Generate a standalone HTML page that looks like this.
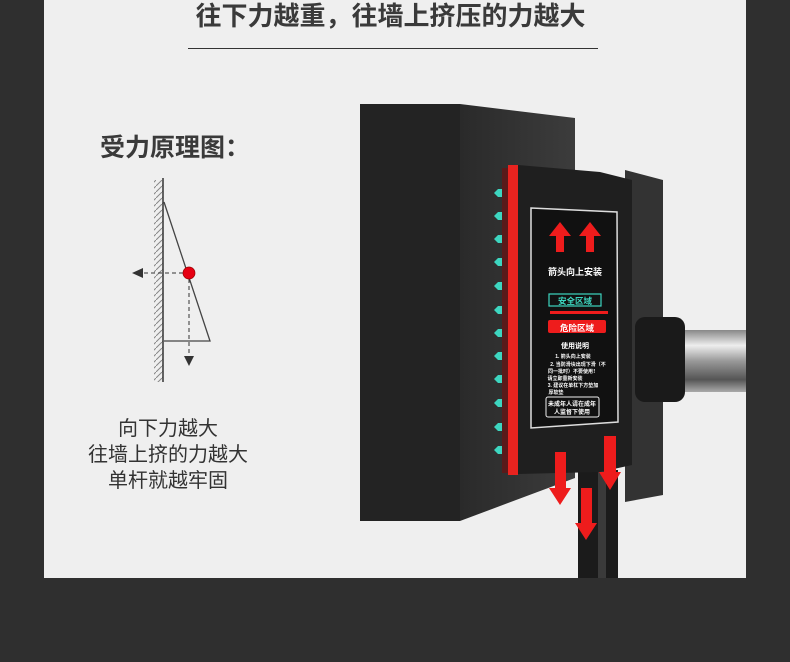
<!DOCTYPE html>
<html><head><meta charset="utf-8"><style>
body{margin:0;width:790px;height:662px;background:#2f2f2f;overflow:hidden;position:relative;font-family:"Liberation Sans","Noto Sans CJK SC",sans-serif}
.panel{position:absolute;left:44px;top:0;width:702px;height:578px;background:#efefef}
.t{position:absolute;white-space:nowrap;color:#3a3a3a}
</style></head><body>
<div class="panel"></div>
<div class="t" style="left:193px;top:-4px;width:395px;text-align:center;font-size:26px;font-weight:bold">往下力越重，往墙上挤压的力越大</div>
<div style="position:absolute;left:188px;top:48px;width:410px;height:1px;background:#333"></div>
<div class="t" style="left:100px;top:128px;font-size:25px;font-weight:bold">受力原理图：</div>
<div class="t" style="left:58px;top:416px;width:220px;text-align:center;font-size:20px;line-height:26px;color:#333">向下力越大<br>往墙上挤的力越大<br>单杆就越牢固</div>
<svg width="790" height="662" style="position:absolute;left:0;top:0">
<defs>
<pattern id="h" width="6" height="6" patternUnits="userSpaceOnUse"><path d="M0 6L6 0" stroke="#888" stroke-width="1"/></pattern>
<linearGradient id="pipe" x1="0" y1="0" x2="0" y2="1"><stop offset="0" stop-color="#888"/><stop offset=".25" stop-color="#eee"/><stop offset=".5" stop-color="#999"/><stop offset=".8" stop-color="#555"/><stop offset="1" stop-color="#aaa"/></linearGradient>
<linearGradient id="side" x1="0" y1="0" x2="1" y2="0"><stop offset="0" stop-color="#2a2a2a"/><stop offset="1" stop-color="#3c3c3c"/></linearGradient>
</defs>
<rect x="154" y="180" width="9" height="202" fill="url(#h)"/>
<line x1="163" y1="178" x2="163" y2="382" stroke="#333" stroke-width="1.5"/>
<polyline points="164,202 210,341 164,341" fill="none" stroke="#444" stroke-width="1.3"/>
<line x1="183" y1="273" x2="142" y2="273" stroke="#333" stroke-dasharray="4,3"/>
<polygon points="132,273 143,268 143,278" fill="#333"/>
<line x1="189" y1="279" x2="189" y2="356" stroke="#333" stroke-dasharray="4,3"/>
<polygon points="184,356 194,356 189,366" fill="#333"/>
<circle cx="189" cy="273" r="6" fill="#e60012" stroke="#900" stroke-width=".7"/>
<rect x="675" y="330" width="71" height="62" fill="url(#pipe)"/>
<rect x="578" y="470" width="40" height="108" fill="#1b1b1b"/>
<rect x="598" y="470" width="8" height="108" fill="#3a3a3a"/>
<polygon points="460,104 575,118 575,478 460,521" fill="url(#side)"/>
<rect x="360" y="104" width="100" height="417" fill="#232323"/>
<polygon points="625,170 663,180 663,495 625,502" fill="#333"/>
<rect x="635" y="317" width="50" height="85" rx="10" fill="#1a1a1a"/>
<polygon points="518,165 600,172 632,180 632,465 600,472 518,474" fill="#1f1f1f"/>
<rect x="508" y="165" width="10" height="310" fill="#e8231f"/>
<rect x="502" y="168" width="6" height="305" fill="#5a1a1a"/>
<polygon points="531,208 617,212 618,422 531,428" fill="#111" stroke="#ddd" stroke-width="1.5"/>
<g fill="#ee1c1c">
<polygon points="560,222 549,236 556,236 556,252 564,252 564,236 571,236"/>
<polygon points="590,222 579,236 586,236 586,252 594,252 594,236 601,236"/>
<rect x="550" y="311" width="58" height="3"/>
<rect x="548" y="320" width="58" height="13" rx="2"/>
<polygon points="555,452 566,452 566,488 571,488 560,505 549,488 555,488"/>
<polygon points="604,436 616,436 616,472 621,472 610,490 599,472 604,472"/>
<polygon points="581,488 592,488 592,523 597,523 586,540 575,523 581,523"/>
</g>
<rect x="549" y="294" width="52" height="12" fill="#111" stroke="#3dd6c0" stroke-width="1.2"/>
<g font-family="Liberation Sans,Noto Sans CJK SC,sans-serif" fill="#fff" font-weight="bold" text-anchor="middle">
<text x="575" y="275" font-size="9">箭头向上安装</text>
<text x="575" y="304" font-size="8.5" fill="#3dd6c0">安全区域</text>
<text x="577" y="331" font-size="8.5">危险区域</text>
<text x="575" y="348" font-size="7">使用说明</text>
<text x="573" y="358" font-size="5">1. 箭头向上安装</text>
<text x="578" y="366" font-size="5">2. 当防滑块出现下滑（不</text>
<text x="573" y="373" font-size="5">同一批时）不要使用！</text>
<text x="565" y="380" font-size="5">请立即重新安装</text>
<text x="573" y="387" font-size="5">3. 建议在单杠下方垫加</text>
<text x="556" y="394" font-size="5">厚软垫</text>
</g>
<rect x="546" y="397" width="53" height="20" rx="2" fill="none" stroke="#eee" stroke-width="1"/>
<g font-family="Liberation Sans,Noto Sans CJK SC,sans-serif" fill="#fff" font-size="6" font-weight="bold" text-anchor="middle">
<text x="572" y="406">未成年人请在成年</text><text x="572" y="414">人监督下使用</text></g>
<g fill="#3dd6c0">
<polygon points="494,193 498,189 502,189 502,197 498,197"/>
<polygon points="494,216 498,212 502,212 502,220 498,220"/>
<polygon points="494,239 498,235 502,235 502,243 498,243"/>
<polygon points="494,262 498,258 502,258 502,266 498,266"/>
<polygon points="494,286 498,282 502,282 502,290 498,290"/>
<polygon points="494,310 498,306 502,306 502,314 498,314"/>
<polygon points="494,333 498,329 502,329 502,337 498,337"/>
<polygon points="494,356 498,352 502,352 502,360 498,360"/>
<polygon points="494,379 498,375 502,375 502,383 498,383"/>
<polygon points="494,403 498,399 502,399 502,407 498,407"/>
<polygon points="494,427 498,423 502,423 502,431 498,431"/>
<polygon points="494,450 498,446 502,446 502,454 498,454"/>
</g>
</svg>
</body></html>
